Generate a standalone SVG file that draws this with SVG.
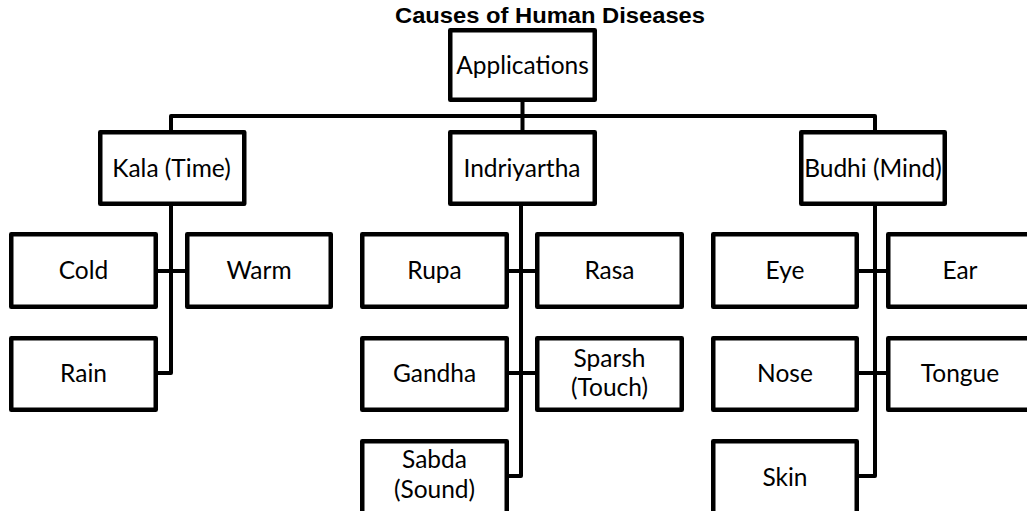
<svg xmlns="http://www.w3.org/2000/svg" width="1027" height="511" viewBox="0 0 1027 511">
<style>
.box{fill:#fff;stroke:#000;stroke-width:4.5;stroke-linejoin:round}
.lbl{font-family:Lato,"Open Sans","Liberation Sans",sans-serif;font-size:24.5px;fill:#000;text-anchor:middle}
.ttl{font-family:"Liberation Sans",Arial,sans-serif;font-size:22px;font-weight:bold;fill:#000;text-anchor:middle}
.con{fill:none;stroke:#000;stroke-width:4;stroke-linejoin:round}
</style>
<rect width="1027" height="511" fill="#fff"/>
<text class="ttl" x="550" y="23" textLength="310" lengthAdjust="spacingAndGlyphs">Causes of Human Diseases</text>
<g id="connectors">
<path class="con" d="M522.5,100 V116 M171,130 V116 H875 V130 M522.5,116 V130"/>
<path class="con" d="M171,206 V373 H158 M158,271 H185"/>
<path class="con" d="M521,206 V476 H508 M508,271 H535 M508,373 H535"/>
<path class="con" d="M875,206 V476 H859 M859,271 H886 M859,373 H886"/>
</g>
<g id="applications"><rect class="box" x="450.25" y="30.25" width="144.5" height="69.5"/><text class="lbl" x="522.5" y="73.5">Applications</text></g>
<g id="kala"><rect class="box" x="100.25" y="132.25" width="144" height="71.5"/><text class="lbl" x="171.5" y="176.5">Kala (Time)</text></g>
<g id="indriyartha"><rect class="box" x="450.25" y="132.25" width="144.5" height="71.5"/><text class="lbl" x="522" y="176.5">Indriyartha</text></g>
<g id="budhi"><rect class="box" x="801.25" y="132.25" width="143.5" height="71.5"/><text class="lbl" x="873" y="176.5">Budhi (Mind)</text></g>
<g id="cold"><rect class="box" x="11.25" y="234.25" width="144.5" height="72.5"/><text class="lbl" x="83.5" y="278.5">Cold</text></g>
<g id="warm"><rect class="box" x="187.25" y="234.25" width="143.5" height="72.5"/><text class="lbl" x="259" y="278.5">Warm</text></g>
<g id="rain"><rect class="box" x="11.25" y="338.25" width="144.5" height="71.5"/><text class="lbl" x="83.5" y="381.5">Rain</text></g>
<g id="rupa"><rect class="box" x="362.25" y="234.25" width="144.5" height="72.5"/><text class="lbl" x="434.5" y="278.5">Rupa</text></g>
<g id="rasa"><rect class="box" x="537.25" y="234.25" width="144.5" height="72.5"/><text class="lbl" x="609.5" y="278.5">Rasa</text></g>
<g id="gandha"><rect class="box" x="362.25" y="338.25" width="144.5" height="71.5"/><text class="lbl" x="434.5" y="381.5">Gandha</text></g>
<g id="sparsh"><rect class="box" x="537.25" y="338.25" width="144.5" height="71.5"/><text class="lbl" x="609.5" y="367">Sparsh</text><text class="lbl" x="609.5" y="396">(Touch)</text></g>
<g id="sabda"><rect class="box" x="362.25" y="441.25" width="144.5" height="74"/><text class="lbl" x="434.5" y="468">Sabda</text><text class="lbl" x="434.5" y="498">(Sound)</text></g>
<g id="eye"><rect class="box" x="713.25" y="234.25" width="143.5" height="72.5"/><text class="lbl" x="785" y="278.5">Eye</text></g>
<g id="ear"><rect class="box" x="888.25" y="234.25" width="144" height="72.5"/><text class="lbl" x="960" y="278.5">Ear</text></g>
<g id="nose"><rect class="box" x="713.25" y="338.25" width="143.5" height="71.5"/><text class="lbl" x="785" y="381.5">Nose</text></g>
<g id="tongue"><rect class="box" x="888.25" y="338.25" width="144" height="71.5"/><text class="lbl" x="960" y="381.5">Tongue</text></g>
<g id="skin"><rect class="box" x="713.25" y="441.25" width="143.5" height="74"/><text class="lbl" x="785" y="485.5">Skin</text></g>
</svg>
